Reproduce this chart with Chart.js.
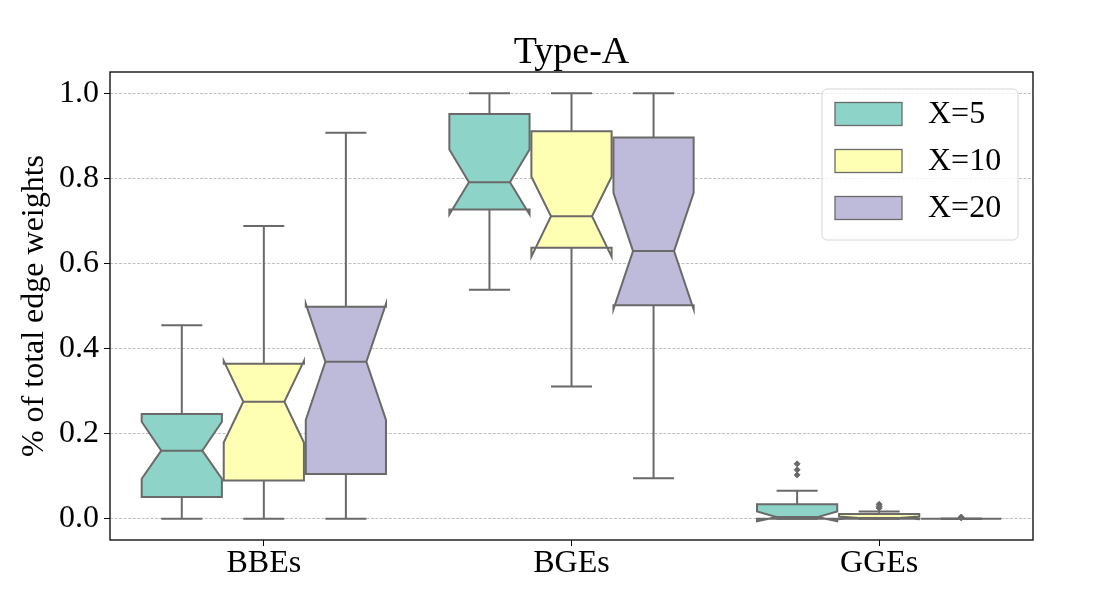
<!DOCTYPE html>
<html lang="en">
<head>
<meta charset="UTF-8">
<title>Type-A</title>
<style>
    html, body { margin: 0; padding: 0; background: #fff; }
    #wrap { width: 1100px; height: 600px; }
</style>
</head>
<body>
<div id="wrap"><canvas id="myChart" width="1100" height="600"></canvas></div>
<script src="https://cdn.jsdelivr.net/npm/chart.js"></script>
<script>
// categories and hue groups
const categories = ['BBEs', 'BGEs', 'GGEs'];
const hues = ['X=5', 'X=10', 'X=20'];
const hueColors = ['#8dd3c7', '#ffffb3', '#bebada'];
const yTicks = [0.0, 0.2, 0.4, 0.6, 0.8, 1.0];
const chartTitle = 'Type-A';

// box stats, one row per hue, one column per category
const whiskerLow = [[0.000, 0.538, 0.000], [0.000, 0.311, 0.000], [0.000, 0.095, 0.000]];
const q1 =         [[0.051, 0.727, 0.000], [0.090, 0.637, 0.000], [0.105, 0.502, 0.000]];
const median =     [[0.160, 0.791, 0.004], [0.275, 0.711, 0.002], [0.369, 0.629, 0.000]];
const q3 =         [[0.246, 0.951, 0.034], [0.364, 0.911, 0.011], [0.498, 0.896, 0.000]];
const whiskerHigh =[[0.455, 1.000, 0.066], [0.688, 1.000, 0.017], [0.907, 1.000, 0.000]];
const notchLow =   [[0.094, 0.715, -0.006], [0.179, 0.616, -0.001], [0.232, 0.492, 0.000]];
const notchHigh =  [[0.228, 0.868, 0.017], [0.371, 0.804, 0.005], [0.505, 0.766, 0.000]];

// outliers per hue, per category
const outliersX5 = [[], [], [0.129, 0.115, 0.103]];
const outliersX10 = [[], [], [0.034, 0.029, 0.025]];
const outliersX20 = [[], [], [0.004, 0.002]];

const groupWidth = 0.8;
const boxWidth = groupWidth / hues.length;
const edgeColor = '#6a6a6a';

Chart.defaults.font.family = "'Liberation Serif', 'Times New Roman', serif";
Chart.defaults.color = '#000';

function hueOffset(h) {
    return -groupWidth / 2 + boxWidth * (h + 0.5);
}

// outlier points go through the library as scatter points
const outlierSets = [outliersX5, outliersX10, outliersX20].map((set, h) => {
    const pts = [];
    set.forEach((vals, c) => vals.forEach(v => pts.push({ x: c + hueOffset(h), y: v })));
    return {
        label: hues[h],
        data: pts,
        pointStyle: 'rectRot',
        radius: 3,
        backgroundColor: edgeColor,
        borderColor: edgeColor,
        borderWidth: 1
    };
});

// draws the notched boxes and whiskers from the stats arrays
const boxPlugin = {
    id: 'boxes',
    beforeDatasetsDraw(chart) {
        const ctx = chart.ctx;
        const xs = chart.scales.x, ys = chart.scales.y;
        ctx.save();
        ctx.lineWidth = 2;
        ctx.strokeStyle = edgeColor;
        ctx.lineJoin = 'miter';
        for (let h = 0; h < hues.length; h++) {
            for (let c = 0; c < categories.length; c++) {
                const cx = c + hueOffset(h);
                const L = xs.getPixelForValue(cx - boxWidth / 2 + 0.003);
                const R = xs.getPixelForValue(cx + boxWidth / 2 - 0.003);
                const cL = xs.getPixelForValue(cx - boxWidth / 4);
                const cR = xs.getPixelForValue(cx + boxWidth / 4);
                const X = xs.getPixelForValue(cx);
                const y = v => ys.getPixelForValue(v);

                // whiskers
                ctx.beginPath();
                ctx.moveTo(X, y(q1[h][c])); ctx.lineTo(X, y(whiskerLow[h][c]));
                ctx.moveTo(X, y(q3[h][c])); ctx.lineTo(X, y(whiskerHigh[h][c]));
                ctx.moveTo(cL, y(whiskerLow[h][c])); ctx.lineTo(cR, y(whiskerLow[h][c]));
                ctx.moveTo(cL, y(whiskerHigh[h][c])); ctx.lineTo(cR, y(whiskerHigh[h][c]));
                ctx.stroke();

                // notched box, same path as matplotlib
                ctx.beginPath();
                ctx.moveTo(L, y(q1[h][c]));
                ctx.lineTo(R, y(q1[h][c]));
                ctx.lineTo(R, y(notchLow[h][c]));
                ctx.lineTo(cR, y(median[h][c]));
                ctx.lineTo(R, y(notchHigh[h][c]));
                ctx.lineTo(R, y(q3[h][c]));
                ctx.lineTo(L, y(q3[h][c]));
                ctx.lineTo(L, y(notchHigh[h][c]));
                ctx.lineTo(cL, y(median[h][c]));
                ctx.lineTo(L, y(notchLow[h][c]));
                ctx.closePath();
                ctx.fillStyle = hueColors[h];
                ctx.fill();
                ctx.stroke();

                // median
                ctx.beginPath();
                ctx.moveTo(cL, y(median[h][c])); ctx.lineTo(cR, y(median[h][c]));
                ctx.stroke();
            }
        }
        ctx.restore();
    },
    afterDraw(chart) {
        const ctx = chart.ctx;
        const a = chart.chartArea;
        ctx.save();
        // frame
        ctx.strokeStyle = '#000';
        ctx.lineWidth = 1.3;
        ctx.strokeRect(a.left, a.top, a.right - a.left, a.bottom - a.top);

        // title centred over the axes, like matplotlib
        ctx.fillStyle = '#000';
        ctx.font = "38px 'Liberation Serif', serif";
        ctx.textAlign = 'center';
        ctx.textBaseline = 'alphabetic';
        ctx.fillText(chartTitle, (a.left + a.right) / 2, 62.5);

        // legend in upper right
        const lx = a.right - 211, ly = a.top + 17, lw = 196, lh = 151;
        ctx.fillStyle = 'rgba(255,255,255,0.8)';
        ctx.strokeStyle = '#d6d6d6';
        ctx.lineWidth = 1;
        ctx.beginPath();
        ctx.roundRect(lx, ly, lw, lh, 5);
        ctx.fill();
        ctx.stroke();
        ctx.font = "32px 'Liberation Serif', serif";
        ctx.textBaseline = 'middle';
        ctx.textAlign = 'left';
        hues.forEach((name, i) => {
            const ry = ly + 25 + i * 47;
            ctx.fillStyle = hueColors[i];
            ctx.fillRect(lx + 13, ry - 11.5, 67, 23);
            ctx.strokeStyle = edgeColor;
            ctx.lineWidth = 1.3;
            ctx.strokeRect(lx + 13, ry - 11.5, 67, 23);
            ctx.fillStyle = '#000';
            ctx.fillText(name, lx + 106, ry + 1);
        });
        ctx.restore();
    }
};

const ctx = document.getElementById('myChart').getContext('2d');
const myChart = new Chart(ctx, {
    type: 'scatter',
    data: { datasets: outlierSets },
    options: {
        responsive: false,
        animation: false,
        layout: { padding: { left: 0, right: 67, top: 72, bottom: 0 } },
        plugins: {
            legend: { display: false },
            tooltip: { enabled: false },
            title: { display: false }
        },
        scales: {
            x: {
                type: 'linear',
                min: -0.5,
                max: 2.5,
                afterBuildTicks: s => { s.ticks = categories.map((_, i) => ({ value: i })); },
                afterFit: s => { s.height = 60; },
                ticks: {
                    callback: v => categories[v],
                    font: { size: 32 },
                    color: '#000',
                    padding: -2,
                    maxRotation: 0
                },
                grid: { drawOnChartArea: false, drawTicks: true, tickLength: 6, tickColor: '#000', tickWidth: 1 },
                border: { display: false }
            },
            y: {
                min: -0.05,
                max: 1.05,
                afterBuildTicks: s => { s.ticks = yTicks.map(v => ({ value: v })); },
                afterFit: s => { s.width = 110; },
                ticks: {
                    callback: v => v.toFixed(1),
                    font: { size: 32 },
                    color: '#000',
                    padding: 5
                },
                title: {
                    display: true,
                    text: '% of total edge weights',
                    font: { size: 32 },
                    color: '#000',
                    padding: { top: 15, bottom: 0 }
                },
                grid: { color: '#b0b0b0', lineWidth: 0.8, tickLength: 6, tickColor: '#000', tickWidth: 1 },
                border: { display: false, dash: [3, 1.5] }
            }
        }
    },
    plugins: [boxPlugin]
});
</script>
</body>
</html>
